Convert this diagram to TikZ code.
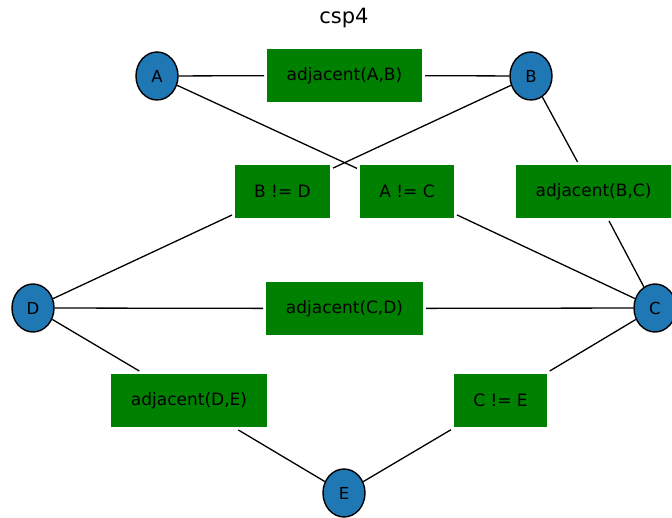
\documentclass[tikz,border=0pt]{standalone}
\usepackage{fontspec}
\setmainfont{DejaVu Sans}
\usetikzlibrary{shapes.geometric}
\definecolor{varblue}{HTML}{1F77B4}
\definecolor{consgreen}{HTML}{008000}

\begin{document}
\begin{tikzpicture}[
                x = 1pt, y = -1pt,
                var/.style={draw, ellipse, fill=varblue, line width=1.4pt,
                    minimum width=42pt, minimum height=48pt, inner sep=0pt,
                    font=\fontsize{16.5}{18}\selectfont},
                cons/.style={rectangle, fill=consgreen, minimum height=53pt,
                    inner sep=0pt, outer sep=3pt, font=\fontsize{17}{19}\selectfont},
                every path/.style={line width=1.3pt}
            ]

                \useasboundingbox (0, 0) rectangle (672, 518);
                \node[font=\fontsize{21}{23}\selectfont] (title) at (344, 18) {csp4};

                % variables
                \foreach \sym/\x/\y in {A/157/76, B/531/76, C/655/308, D/33/308, E/344/493} {
                    \node[var] (\sym) at (\x, \y) {\sym};
                }

                % constraints
                \foreach \name/\x/\y/\bw/\txt in {
                    adjAB/344.5/75.5/155/{adjacent(A,B)},
                    neqBD/282.5/191.5/95/{B != D},
                    neqAC/407/191.5/94/{A != C},
                    adjBC/593.5/191.5/155/{adjacent(B,C)},
                    adjCD/344.5/308.5/157/{adjacent(C,D)},
                    adjDE/189/400.5/156/{adjacent(D,E)},
                    neqCE/500.5/400.5/93/{C != E}} {
                    \node[cons, minimum width=\bw pt] (\name) at (\x, \y) {\txt};
                }

                \draw (A) -- (adjAB) -- (B);
                \draw (A) -- (neqAC) -- (C);
                \draw (B) -- (neqBD) -- (D);
                \draw (B) -- (adjBC) -- (C);
                \draw (D) -- (adjCD) -- (C);
                \draw (D) -- (adjDE) -- (E);
                \draw (C) -- (neqCE) -- (E);
            \end{tikzpicture}
\end{document}
